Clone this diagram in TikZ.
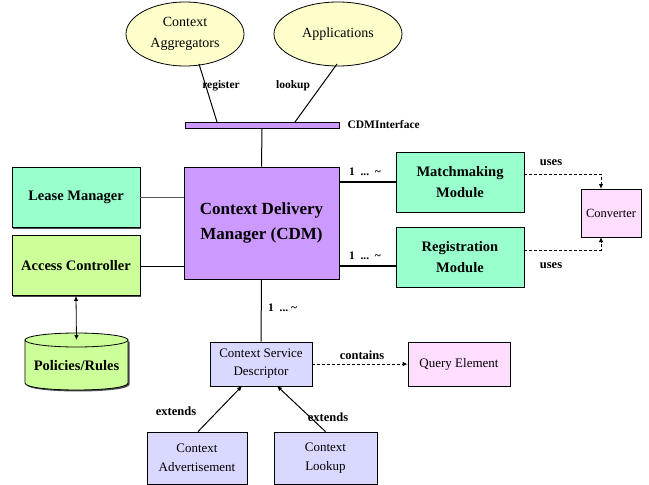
\documentclass[tikz,border=0pt]{standalone}
\usepackage{fontspec}
\setmainfont{LiberationSerif}[Extension=.ttf, UprightFont=*-Regular, BoldFont=*-Bold, ItalicFont=*-Italic, BoldItalicFont=*-BoldItalic]
\usetikzlibrary{arrows.meta,shapes.geometric,shadows}
\definecolor{mint}{HTML}{99FFCC}
\definecolor{lilac}{HTML}{CC99FF}
\definecolor{lime}{HTML}{CCFF99}
\definecolor{cream}{HTML}{FFFFCC}
\definecolor{lavender}{HTML}{D9D9FF}
\definecolor{blush}{HTML}{FFDDFF}
\newcommand{\fs}[2]{\fontsize{#1}{#2}\selectfont}
\tikzset{
  box/.style={draw=black, line width=0.8pt, align=center, inner sep=0pt,
    drop shadow={shadow xshift=1.2pt, shadow yshift=-1.2pt, fill=black!70, opacity=1}},
  bigbox/.style={box, font=\fs{14.5}{21}\bfseries},
  smallbox/.style={box, font=\fs{13}{19}},
  oval/.style={ellipse, draw=black, line width=0.8pt, fill=cream, align=center,
    inner sep=0pt, font=\fs{14}{21}},
  lbl/.style={font=\fs{11.5}{13}\bfseries, inner sep=1pt},
  biglbl/.style={font=\fs{12.5}{14}\bfseries, inner sep=1pt},
  link/.style={line width=1pt},
  usesline/.style={line width=1pt, dash pattern=on 3pt off 2pt},
  tip/.style={-{Latex[length=5pt,width=4.5pt]}}
}
\begin{document}
\begin{tikzpicture}[x=1pt,y=-1pt]
\useasboundingbox (0,0) rectangle (649,485);

% client ellipses
\node[oval, minimum width=118pt, minimum height=64pt] (agg) at (185,34) {Context\\Aggregators};
\node[oval, minimum width=128pt, minimum height=64pt] (app) at (338,34) {Applications};

% interface bar
\node[draw=black, line width=0.8pt, fill=lilac, minimum width=154pt, minimum height=6pt,
      inner sep=0pt, drop shadow={shadow xshift=1pt, shadow yshift=-1pt, fill=black, opacity=1}] (bar) at (262,125) {};
\node[lbl, anchor=west, xshift=7pt] (barlbl) at (bar.east) {CDMInterface};
\coordinate (barA) at (217,122);
\coordinate (barB) at (295,122);
\coordinate (aggfoot) at (199,64);
\coordinate (appfoot) at (337,64);
\draw[link] (aggfoot) -- (barA);
\draw[link] (appfoot) -- (barB);
\node[lbl] (reg) at (221,86) {register};
\node[lbl] (look) at (293,86) {lookup};

% central manager
\node[box, fill=lilac, minimum width=155pt, minimum height=112pt,
      font=\fs{17}{25}\bfseries] (cdm) at (261.5,223) {Context Delivery\\Manager (CDM)};
\draw[link] (bar.south) -- (cdm.north);

% left side
\node[bigbox, fill=mint, minimum width=128pt, minimum height=60pt] (lease) at (76,197.5) {Lease Manager};
\node[bigbox, fill=lime, minimum width=128pt, minimum height=60pt] (acc) at (76,265.5) {Access Controller};
\draw[link, black!65] (lease.east) -- (lease.east -| cdm.west);
\draw[link] (acc.east |- 0,266) -- (cdm.west |- 0,266);

% policies store: a cylinder drawn by hand
\fill[black!70] (26.5,341.5) -- (26.5,384.5) .. controls (26.5,393.8) and (129.5,393.8) .. (129.5,384.5) -- (129.5,341.5) -- cycle;
\filldraw[fill=lime, draw=black, line width=0.8pt]
  (25,340) -- (25,383) .. controls (25,392.3) and (128,392.3) .. (128,383) -- (128,340) -- cycle;
\filldraw[fill=lime, draw=black, line width=0.8pt] (76.5,340) ellipse [x radius=51.5, y radius=7];
\node[font=\fs{14.5}{17}\bfseries, inner sep=0pt] (pol) at (76.5,366) {Policies/Rules};
\coordinate (poltop) at (76.5,340);
\draw[line width=0.8pt, {Latex[length=5pt,width=4.5pt]}-{Latex[length=5pt,width=4.5pt]}] (acc.south) -- (poltop);

% right side modules
\node[bigbox, fill=mint, minimum width=128pt, minimum height=60pt] (match) at (460,182) {Matchmaking\\Module};
\node[bigbox, fill=mint, minimum width=128pt, minimum height=60pt] (regm) at (460,257) {Registration\\Module};
\node[smallbox, fill=blush, minimum width=60pt, minimum height=48pt, font=\fs{12.5}{15}] (conv) at (611,213) {Converter};
\draw[link, line width=1.4pt] (cdm.east |- 0,182) -- (match.west |- 0,182);
\draw[link, line width=1.4pt] (cdm.east |- 0,266) -- (regm.west |- 0,266);
\node[lbl] (m1) at (365,172) {1 \ ...\ \ \textasciitilde};
\node[lbl] (m2) at (365,256) {1 \ ...\ \ \textasciitilde};

\coordinate (convtop) at (601,189);
\coordinate (convbot) at (601,237);
\draw[usesline, tip] (match.east |- 0,174) -| (convtop);
\draw[usesline, tip] (regm.east |- 0,250) -| (convbot);
\node[biglbl] (u1) at (551,163) {uses};
\node[biglbl] (u2) at (551,266) {uses};

% descriptor and its relatives
\node[smallbox, fill=lavender, minimum width=102pt, minimum height=44pt, font=\fs{13}{18}] (csd) at (261,364) {Context Service\\Descriptor};
\node[smallbox, fill=blush, minimum width=102pt, minimum height=44pt] (qe) at (459,364) {Query Element};
\draw[link] (cdm.south) -- (csd.north);
\node[lbl, anchor=west] (m3) at (267,308) {1 \ ...\ \textasciitilde};
\draw[usesline, line width=0.9pt, tip] (csd.east) -- (qe.west);
\node[biglbl] (cont) at (362,355) {contains};

\node[smallbox, fill=lavender, minimum width=100pt, minimum height=52pt] (adv) at (197,458) {Context\\Advertisement};
\node[smallbox, fill=lavender, minimum width=103pt, minimum height=52pt] (lkp) at (325.5,458) {Context\\Lookup};
\coordinate (csdA) at (242,386);
\coordinate (csdB) at (277,386);
\draw[link, tip] (adv.north) ++(1,0) -- (csdA);
\draw[link, tip] (lkp.north) -- (csdB);
\node[biglbl] (e1) at (176,411) {extends};
\node[biglbl] (e2) at (328,417) {extends};
\end{tikzpicture}
\end{document}
